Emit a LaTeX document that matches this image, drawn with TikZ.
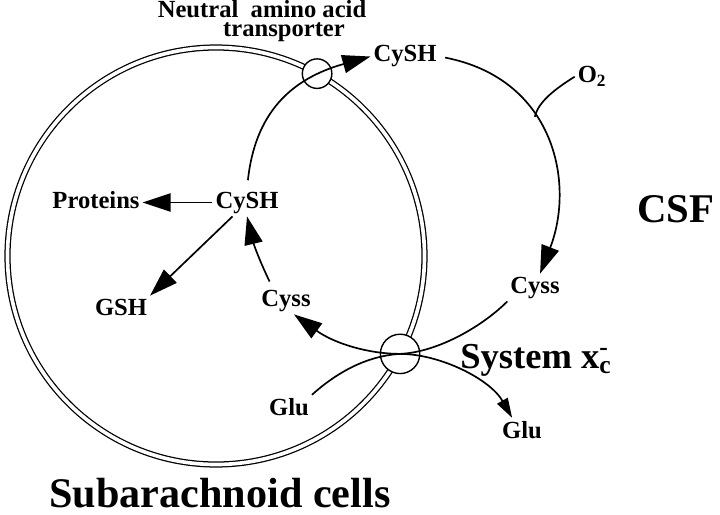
\documentclass[tikz,border=0pt]{standalone}
\usepackage{fontspec}
\setmainfont{Liberation Serif}
\usetikzlibrary{arrows.meta, calc}

\begin{document}
\begin{tikzpicture}[x=0.025cm, y=0.025cm,
    molname/.style={font=\fontsize{17.5}{21}\selectfont\bfseries, inner sep=2pt, anchor=base},
    biglabel/.style={font=\fontsize{30}{36}\selectfont\bfseries, inner sep=0pt, anchor=base},
    flow/.style={line width=1.2pt, -{Triangle[length=20pt, width=13pt]}},
    smallflow/.style={line width=1.2pt, -{Triangle[length=14pt, width=8.5pt]}},
    pore/.style={circle, draw, line width=1pt, fill=white, inner sep=0pt}]
    \def\cellR{208.5}
    \useasboundingbox (0,0) rectangle (720,514);
    \coordinate (cellC) at (216,258);
    \draw[line width=0.9pt, double, double distance=2.6pt] (cellC) circle (\cellR);
    \node[pore, minimum size=21pt] (nat) at ($(cellC)+(61:\cellR)$) {};
    \node[pore, minimum size=28pt] (xc) at ($(cellC)+(-28:\cellR)$) {};

    \node[molname] (cyshIn) at (247,306) {CySH};
    \node[molname] (proteins) at (96,306) {Proteins};
    \node[molname] (gsh) at (121,199) {GSH};
    \node[molname] (cyssIn) at (286,208) {Cyss};
    \node[molname] (cyshOut) at (405,452) {CySH};
    \node[molname] (oxygen) at (592,431) {O\textsubscript{2}};
    \node[molname] (cyssOut) at (535,221) {Cyss};
    \node[molname] (gluIn) at (289,99) {Glu};
    \node[molname] (gluOut) at (522,76) {Glu};
    \node[molname, inner sep=0pt] (natName) at (262,496) {Neutral\ \ amino acid};
    \node[molname, inner sep=0pt] (natNameB) at (284,477) {transporter};
    \node[biglabel, font=\fontsize{26}{30}\selectfont\bfseries, anchor=base west] (xcName) at (460,146) {System x\rlap{\textsuperscript{-}}\textsubscript{c}};
    \node[biglabel, font=\fontsize{29}{34}\selectfont\bfseries] (csf) at (676,292) {CSF};
    \node[biglabel] (cellName) at (220,7) {Subarachnoid cells};

    \draw[flow, shorten <=6pt] (cyshIn.north) .. controls (255,400) and (290,435) .. (cyshOut.west);
    \draw[flow, shorten <=4pt] (cyshOut.east) .. controls (555,435) and (575,330) .. coordinate[pos=0.4] (oxJoin) (cyssOut.70);
    \draw[line width=1.2pt] (oxygen.west) .. controls (555,425) and (538,412) .. (oxJoin);
    \draw[flow] (cyssOut.south west) .. controls (485,190) and (440,162) .. (xc.center) .. controls (370,160) and (335,170) .. (cyssIn.-60);
    \draw[smallflow] (gluIn.north east) .. controls (335,140) and (365,158) .. (xc.center) .. controls (440,160) and (490,135) .. (gluOut.130);
    \draw[flow, shorten <=4pt] ($(cyssIn.north)+(-14,0)$) to[bend left=6] (cyshIn.south);
    \draw[flow] (cyshIn.west) -- (cyshIn.west -| proteins.east);
    \draw[flow] (cyshIn) -- (gsh.north east);
\end{tikzpicture}
\end{document}
